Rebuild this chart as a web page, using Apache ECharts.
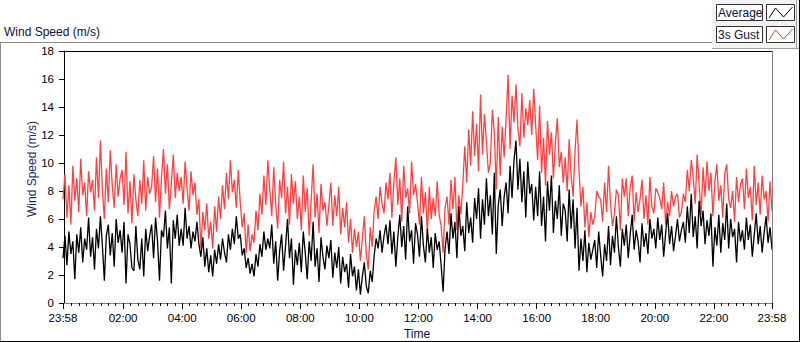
<!DOCTYPE html>
<html>
<head>
<meta charset="utf-8">
<script src="https://cdn.jsdelivr.net/npm/echarts@6/dist/echarts.min.js"></script>
<style>
html,body{margin:0;padding:0;background:#fff;}
#chart{width:800px;height:342px;}
</style>
</head>
<body>
<div id="chart"></div>
<script>
// Time axis: minutes relative to midnight, first sample at 23:58 (-2), one sample every 4 minutes
const startMinute = -2;
const stepMinutes = 4;

// Average wind speed (m/s), one row per hour
const avgSpeed = [
 3.2,4.8,2.7,5.1,3.5,4.4,1.7,4.9,3.6,5.4,2.9,4.6,3.8,6.1,3.3,
 4.7,2.4,5.3,3.9,6.2,4.1,1.6,4.8,5.6,3.4,5.0,2.6,6.0,4.3,5.2,
 3.6,5.8,1.4,4.9,4.2,2.5,2.3,5.5,3.1,2.4,4.6,1.9,5.3,3.7,4.8,
 5.6,3.2,6.1,4.4,1.6,5.2,4.7,6.6,3.9,5.4,1.4,5.9,4.6,6.3,4.1,
 5.3,4.1,6.8,4.6,5.5,3.9,5.1,4.4,5.8,4.2,3.3,4.7,2.6,3.9,2.2,
 3.4,1.9,3.8,2.8,4.2,3.1,4.6,3.6,2.9,4.9,3.8,5.3,4.2,6.2,4.6,
 4.9,3.4,3.9,2.5,3.2,2.1,2.8,1.9,3.5,2.6,4.2,3.3,5.1,3.8,4.6,
 3.9,5.6,2.8,4.4,1.6,3.7,4.9,2.3,4.1,6.0,3.2,4.6,1.3,3.8,2.7,
 4.3,2.2,5.1,3.6,1.7,4.4,3.0,5.8,2.6,3.9,1.5,4.7,3.3,2.4,4.1,
 3.2,4.5,1.8,3.6,2.5,4.0,1.4,3.3,2.2,2.8,1.1,3.5,1.9,2.6,0.9,
 2.4,0.6,1.9,2.9,1.2,0.7,2.3,1.5,3.4,4.6,3.9,5.2,3.6,4.8,5.6,
 4.2,5.9,3.5,5.1,2.6,4.7,6.3,4.0,5.5,3.1,6.9,4.4,5.2,2.8,5.7,
 4.9,3.3,6.2,4.1,2.9,5.3,3.6,4.7,2.5,5.0,3.8,4.4,2.7,0.8,3.9,
 5.1,3.5,6.4,4.6,5.8,3.2,6.9,4.8,5.5,3.7,7.2,5.0,6.1,4.3,7.5,
 6.0,8.2,4.6,7.4,5.6,8.9,6.2,7.7,4.9,9.3,3.5,7.0,8.1,5.5,7.6,
 8.6,6.4,9.8,7.5,10.2,11.6,8.1,10.3,7.2,9.4,6.1,10.1,7.8,8.5,5.9,
 8.3,6.2,9.4,5.5,7.6,4.4,8.7,6.6,9.1,5.0,7.3,6.0,8.4,4.8,7.1,
 6.6,4.4,8.1,5.3,7.4,3.9,6.8,2.3,4.6,3.0,5.2,2.2,4.3,3.1,3.8,
 4.5,2.5,5.1,3.4,1.9,4.2,3.0,5.5,2.7,4.8,3.6,6.2,4.0,2.6,5.3,
 4.1,5.6,3.2,4.9,6.3,3.8,5.2,4.4,2.9,5.7,4.0,5.0,3.5,6.0,4.6,
 5.3,3.9,6.1,4.5,5.6,3.3,5.0,6.4,4.2,5.5,3.7,4.8,6.0,4.4,5.2,
 5.8,4.3,6.9,5.0,7.8,4.7,6.2,3.9,7.3,5.5,6.6,4.2,5.9,4.8,6.4,
 2.6,5.4,4.1,6.3,3.6,5.7,4.5,7.1,3.9,6.0,4.7,5.3,2.9,5.8,4.4,
 5.2,3.8,6.1,4.5,5.6,3.3,4.9,6.4,4.2,5.5,3.6,5.0,6.2,4.3,5.4,
 3.8
];

// 3 s gust (m/s), one row per hour
const gustSpeed = [
 7.4,9.2,6.1,8.4,5.6,9.8,7.3,8.9,6.5,10.3,7.7,8.6,6.2,9.4,7.9,
 8.8,6.6,10.4,7.5,11.6,8.1,6.0,9.6,7.2,10.9,8.4,6.8,9.9,7.6,8.9,
 9.5,7.0,10.8,6.4,8.7,5.7,9.2,7.4,6.2,8.8,7.1,10.2,6.6,9.0,7.8,
 8.3,10.5,7.2,9.6,6.1,8.9,11.0,7.8,9.9,6.7,8.5,10.6,7.5,9.3,8.0,
 9.0,7.1,10.1,8.2,6.6,9.4,7.7,8.6,6.3,7.4,3.9,6.5,5.2,7.1,4.6,
 5.8,3.9,6.9,5.1,7.6,6.0,8.4,6.7,9.3,7.4,10.2,7.9,8.8,6.8,9.5,
 7.2,5.4,6.4,3.6,5.6,3.7,4.9,4.3,6.6,5.2,7.8,6.3,9.1,7.0,10.2,
 8.1,6.2,9.7,7.0,5.3,8.8,7.5,10.1,6.4,8.3,5.6,9.2,7.1,8.7,6.0,
 7.6,5.2,9.1,6.5,8.2,4.8,7.3,9.9,6.1,7.8,5.0,8.5,6.6,7.2,5.5,
 7.0,8.6,5.5,7.7,6.2,8.3,4.9,6.8,5.4,7.2,4.3,6.0,3.6,5.3,4.0,
 5.1,3.0,4.6,6.2,3.5,2.4,5.4,4.0,6.6,7.6,6.0,8.3,7.1,6.4,8.6,
 7.4,9.3,6.1,8.6,10.4,7.0,8.9,5.8,9.8,7.5,8.2,6.4,10.1,7.7,8.5,
 7.2,5.6,9.0,6.4,7.9,5.0,8.3,6.0,7.5,6.2,8.7,6.3,5.5,3.6,6.8,
 7.6,5.6,8.8,6.7,9.0,5.2,7.7,6.3,8.4,11.2,8.6,12.4,9.8,13.7,10.5,
 12.8,9.4,14.9,10.6,13.5,11.5,9.3,10.0,13.8,12.2,8.1,13.3,9.1,12.6,10.4,
 13.2,16.3,11.0,14.8,12.9,15.6,12.4,11.2,15.0,11.8,13.9,12.7,14.5,12.0,15.3,
 12.7,10.2,14.1,9.3,11.8,8.4,13.0,10.6,12.2,8.9,11.4,13.2,9.7,10.8,8.6,
 10.4,8.0,11.7,9.1,7.6,10.9,13.1,9.5,6.9,8.3,5.4,7.2,4.7,6.5,5.6,
 6.2,8.0,7.6,7.4,5.8,8.6,6.5,9.8,7.1,5.5,6.4,8.1,7.7,5.2,8.9,
 7.6,8.9,6.2,8.3,9.1,5.8,7.9,6.5,7.4,8.8,6.0,7.7,5.6,9.0,6.9,
 6.4,8.2,7.9,7.5,6.7,8.6,5.6,7.2,6.2,8.0,6.9,7.6,7.8,6.1,6.5,
 7.8,7.2,9.5,8.0,10.2,9.0,7.1,10.6,8.5,6.3,9.7,7.6,10.1,8.0,9.3,
 6.2,8.7,9.9,7.3,8.4,6.1,9.2,9.9,7.4,6.8,8.0,5.8,9.0,7.2,8.5,
 8.9,6.7,9.6,7.5,8.3,5.9,9.8,7.0,8.6,6.3,9.1,7.4,8.0,5.8,8.7,
 6.6
];

const seriesNames = ['Average', '3s Gust'];
const majorTickMinutes = [-2,120,240,360,480,600,720,840,960,1080,1200,1320,1438];
const majorTickLabels = ['23:58','02:00','04:00','06:00','08:00','10:00','12:00','14:00','16:00','18:00','20:00','22:00','23:58'];
const minorTickStep = 15;

const minorTickMinutes = [];
for (let m = 0; m < 1440; m += minorTickStep) {
  if (m % 120 !== 0) minorTickMinutes.push(m);
}
const toPairs = arr => arr.map((v, i) => [startMinute + i * stepMinutes, v]);

const FONT = '"Liberation Sans", Arial, sans-serif';
const chart = echarts.init(document.getElementById('chart'), null, {renderer: 'svg'});

const gl = (x1, y1, x2, y2, color) => ({
  type: 'line', silent: true, z: 50,
  shape: {x1, y1, x2, y2},
  style: {stroke: color, lineWidth: 1}
});

chart.setOption({
  animation: false,
  backgroundColor: '#ffffff',
  grid: {left: 63, right: 28, top: 51, bottom: 39, containLabel: false},
  xAxis: [{
    type: 'value', min: -2, max: 1438,
    axisLine: {show: true, lineStyle: {color: '#808080', width: 1}},
    axisTick: {show: true, customValues: majorTickMinutes, length: 6, lineStyle: {color: '#000'}},
    axisLabel: {
      show: true, customValues: majorTickMinutes, margin: 9,
      fontFamily: FONT, fontSize: 11.5, color: '#000',
      formatter: v => majorTickLabels[majorTickMinutes.indexOf(v)] || ''
    },
    splitLine: {show: false}
  }, {
    type: 'value', min: -2, max: 1438, position: 'bottom',
    axisLine: {show: false},
    axisTick: {show: true, customValues: minorTickMinutes, length: 3, lineStyle: {color: '#000'}},
    axisLabel: {show: false},
    splitLine: {show: false}
  }],
  yAxis: {
    type: 'value', min: 0, max: 18, interval: 2,
    axisLine: {show: true, lineStyle: {color: '#000', width: 1}},
    axisTick: {show: true, length: 5, lineStyle: {color: '#000'}},
    axisLabel: {margin: 9, fontFamily: FONT, fontSize: 11.5, color: '#000'},
    splitLine: {show: false}
  },
  series: [{
    name: seriesNames[1], type: 'line', showSymbol: false, symbol: 'none',
    data: toPairs(gustSpeed), lineStyle: {color: '#ff4040', width: 1.3},
    itemStyle: {color: '#ff4040'}, z: 2
  }, {
    name: seriesNames[0], type: 'line', showSymbol: false, symbol: 'none',
    data: toPairs(avgSpeed), lineStyle: {color: '#000000', width: 1.3},
    itemStyle: {color: '#000'}, z: 3
  }],
  graphic: [
    // outer frame
    gl(0, 42.5, 712, 42.5, '#8c8c8c'),
    gl(0.5, 42, 0.5, 342, '#8c8c8c'),
    gl(0, 341.5, 800, 341.5, '#000'),
    gl(799.5, 0, 799.5, 342, '#000'),
    // legend panel
    {type: 'rect', silent: true, z: 40, shape: {x: 712, y: 0, width: 87, height: 48}, style: {fill: '#f2f2f2'}},
    gl(712, 48.5, 799, 48.5, '#a0a0a0'),
    gl(796.5, 0, 796.5, 48, '#a0a0a0'),
    {type: 'rect', silent: true, z: 51, shape: {x: 716.5, y: 4.5, width: 46, height: 16}, style: {fill: '#fff', stroke: '#333', lineWidth: 1}},
    {type: 'rect', silent: true, z: 51, shape: {x: 766.5, y: 4.5, width: 28, height: 16}, style: {fill: '#fff', stroke: '#333', lineWidth: 1}},
    {type: 'rect', silent: true, z: 51, shape: {x: 716.5, y: 26.5, width: 46, height: 16}, style: {fill: '#fff', stroke: '#333', lineWidth: 1}},
    {type: 'rect', silent: true, z: 51, shape: {x: 766.5, y: 26.5, width: 28, height: 16}, style: {fill: '#fff', stroke: '#333', lineWidth: 1}},
    {type: 'polyline', silent: true, z: 52, shape: {points: [[769, 18], [775.5, 8], [783.5, 17], [792.5, 7]]}, style: {stroke: '#000', lineWidth: 1, fill: null}},
    {type: 'polyline', silent: true, z: 52, shape: {points: [[769, 40], [775.5, 30], [783.5, 39], [792.5, 29]]}, style: {stroke: '#ff4040', lineWidth: 1, fill: null}},
    {type: 'text', silent: true, z: 53, style: {x: 718, y: 13, text: seriesNames[0], fontFamily: FONT, fontSize: 12, fill: '#10103a', textVerticalAlign: 'middle'}},
    {type: 'text', silent: true, z: 53, style: {x: 718, y: 35, text: seriesNames[1], fontFamily: FONT, fontSize: 12, fill: '#10103a', textVerticalAlign: 'middle'}},
    // plot border (top black, right grey)
    gl(62, 51.5, 772, 51.5, '#000'),
    gl(772.5, 51, 772.5, 303, '#808080'),
    // titles
    {type: 'text', silent: true, z: 53, style: {x: 4, y: 32, text: 'Wind Speed (m/s)', fontFamily: FONT, fontSize: 12, fill: '#10103a', textVerticalAlign: 'middle'}},
    {type: 'text', silent: true, z: 53, x: 32, y: 169, rotation: Math.PI / 2, style: {x: 0, y: 0, text: 'Wind Speed (m/s)', fontFamily: FONT, fontSize: 12, fill: '#1a2a66', textAlign: 'center', textVerticalAlign: 'middle'}},
    {type: 'text', silent: true, z: 53, style: {x: 417, y: 334, text: 'Time', fontFamily: FONT, fontSize: 12, fill: '#10103a', textAlign: 'center', textVerticalAlign: 'middle'}}
  ]
});
</script>
</body>
</html>
